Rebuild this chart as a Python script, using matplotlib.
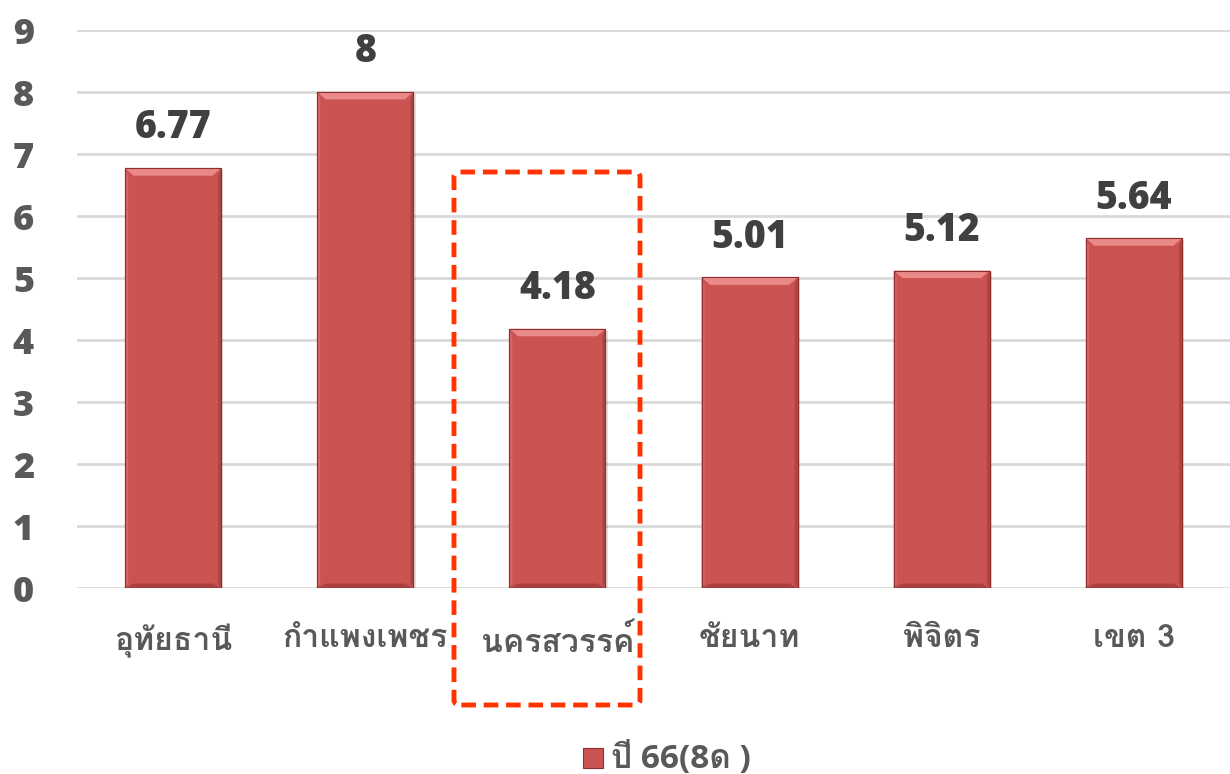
import matplotlib
matplotlib.use("Agg")
import matplotlib.pyplot as plt
from matplotlib import font_manager
from matplotlib.patches import Rectangle, Polygon, FancyBboxPatch
from matplotlib.ft2font import FT2Font

categories = ["อุทัยธานี", "กำแพงเพชร", "นครสวรรค์", "ชัยนาท", "พิจิตร", "เขต 3"]
values = [6.77, 8, 4.18, 5.01, 5.12, 5.64]
value_labels = ["6.77", "8", "4.18", "5.01", "5.12", "5.64"]
series_name = "ปี 66(8ด )"
yticks = [0, 1, 2, 3, 4, 5, 6, 7, 8, 9]


def thai_family():
    # pick an installed family that actually has Thai glyphs
    seen = []
    for f in font_manager.fontManager.ttflist:
        try:
            cm = FT2Font(f.fname).get_charmap()
        except Exception:
            continue
        if 0x0E01 in cm and 0x0E32 in cm:
            seen.append(f)
    bold = [f for f in seen if f.weight in ("bold", 700, "heavy", 800, 900) or "Bold" in f.fname]
    pick = bold[0] if bold else (seen[0] if seen else None)
    return pick.name if pick else None


fam = thai_family()
thai = ([fam] if fam else []) + ["DejaVu Sans"]
digits = ["Open Sans"] + thai
plt.rcParams["font.family"] = thai

TEXT = "#595959"
BAR = "#CB5453"
LIGHT = "#E98A88"
DARK = "#8E2F2E"

fig = plt.figure(figsize=(12.3, 7.74), dpi=100)
ax = fig.add_axes([77 / 1230, 1 - 588 / 774, 1 - 77 / 1230, (588 - 30) / 774])
ax.set_xlim(-0.5, len(categories) - 0.5)
ax.set_ylim(0, 9)
ax.set_yticks(yticks)
for s in ax.spines.values():
    s.set_visible(False)
ax.grid(axis="y", color="#D9D9D9", linewidth=2)
ax.set_axisbelow(True)
ax.tick_params(axis="both", length=0, labelcolor=TEXT)
ax.tick_params(axis="y", pad=31)
ax.tick_params(axis="x", pad=26)
ax.set_xticks(range(len(categories)))
ax.set_xticklabels(categories, fontweight="bold", fontsize=23)
for t in ax.get_yticklabels():
    t.set_fontweight("heavy")
    t.set_fontsize(26)
    t.set_family(digits)

width = 0.5
ax.bar(range(len(categories)), values, width=width, color=BAR,
       edgecolor=DARK, linewidth=0.8, zorder=3)

# bevel bands on each bar
bx = 0.045
by = 0.12
for i, v in enumerate(values):
    x0, x1 = i - width / 2, i + width / 2
    # shadow
    ax.add_patch(Rectangle((x0 + 0.012, -0.03), width, v, color="#000000",
                           alpha=0.12, zorder=2, linewidth=0))
    ax.add_patch(Polygon([(x0, v), (x1, v), (x1 - bx, v - by), (x0 + bx, v - by)],
                         closed=True, color=LIGHT, zorder=4, linewidth=0))
    ax.add_patch(Polygon([(x0, 0), (x1, 0), (x1 - bx, by * 0.6), (x0 + bx, by * 0.6)],
                         closed=True, color="#A9403F", zorder=4, linewidth=0))
    ax.add_patch(Polygon([(x1, 0), (x1, v), (x1 - bx * 0.35, v - by), (x1 - bx * 0.35, by * 0.6)],
                         closed=True, color="#B04443", zorder=4, linewidth=0))
    ax.add_patch(Polygon([(x0, 0), (x0, v), (x0 + bx * 0.35, v - by), (x0 + bx * 0.35, by * 0.6)],
                         closed=True, color="#D76563", zorder=4, linewidth=0))
    ax.add_patch(Rectangle((x0, 0), width, v, fill=False, edgecolor=DARK,
                           linewidth=0.8, zorder=5))

for i, (v, lab) in enumerate(zip(values, value_labels)):
    ax.annotate(lab, (i, v), xytext=(0, 29), textcoords="offset points",
                ha="center", va="center", fontsize=27, fontweight="heavy",
                family=digits, color="#404040", zorder=6)

# dashed highlight around the third category
hl = FancyBboxPatch((454 / 1230, 1 - 705 / 774), (640 - 454) / 1230, (705 - 172) / 774,
                    boxstyle="round,pad=0,rounding_size=0.006",
                    transform=fig.transFigure, fill=False, edgecolor="#FF3300",
                    linewidth=3.5, linestyle=(0, (3, 1.6)), zorder=10)
fig.patches.append(hl)

# legend
lx, ly = 583 / 1230, 1 - 759 / 774
fig.patches.append(Rectangle((lx, ly - 0.012), 20 / 1230, 20 / 774,
                             transform=fig.transFigure, facecolor=BAR,
                             edgecolor=DARK, linewidth=0.8))
fig.text(lx + 28 / 1230, ly, series_name, ha="left", va="center", fontsize=24,
         fontweight="bold", color=TEXT, family=digits)

fig.savefig("out.png", dpi=100)
